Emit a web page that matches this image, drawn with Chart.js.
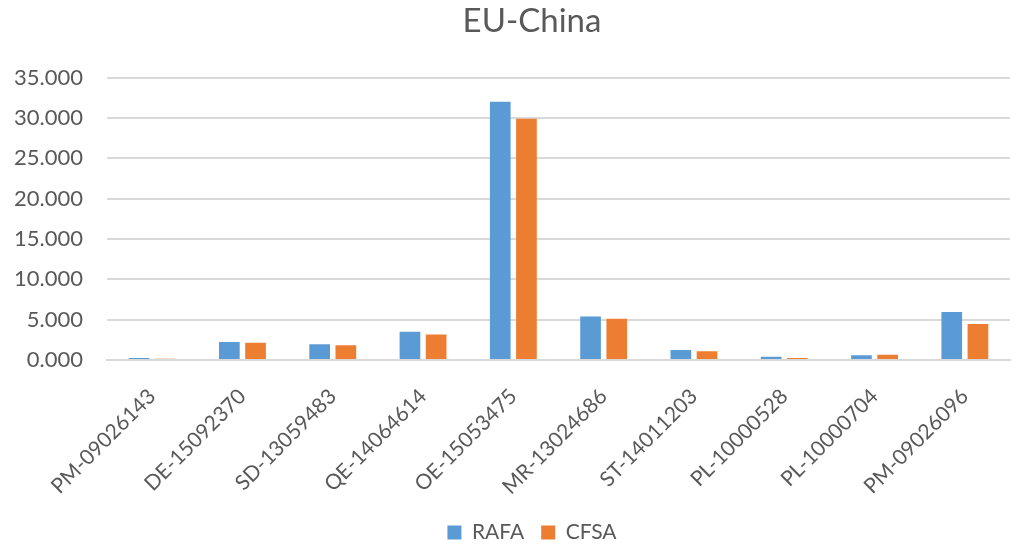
<!DOCTYPE html>
<html>
<head>
<meta charset="utf-8">
<script src="https://cdn.jsdelivr.net/npm/chart.js@4.4.1/dist/chart.umd.min.js"></script>
<style>
  html, body { margin: 0; padding: 0; background: #ffffff; }
  #wrap { width: 1030px; height: 545px; position: relative; }
</style>
</head>
<body>
<div id="wrap"><canvas id="chart" width="1030" height="545"></canvas></div>
<script>
// Sample identifiers along the category axis
const categories = [
  'PM-09026143', 'DE-15092370', 'SD-13059483', 'QE-14064614', 'OE-15053475',
  'MR-13024686', 'ST-14011203', 'PL-10000528', 'PL-10000704', 'PM-09026096'
];

// Measured values per laboratory
const rafaValues = [0.25, 2.24, 1.95, 3.49, 32.0, 5.39, 1.25, 0.41, 0.58, 5.94];
const cfsaValues = [0.15, 2.15, 1.83, 3.15, 29.9, 5.10, 1.08, 0.25, 0.66, 4.45];

// Value-axis ticks
const yTicks = [0, 5, 10, 15, 20, 25, 30, 35];

const textColor = '#595959';
const gridColor = '#D9D9D9';
const fontFamily = 'Lato, "Open Sans", "Liberation Sans", sans-serif';

// Centre the title and legend a little right of the canvas middle
const headerShift = {
  id: 'headerShift',
  afterLayout(chart) {
    const dx = 27;
    [chart.titleBlock, chart.legend].forEach((box) => {
      if (box) { box.left += dx; box.right += dx; }
    });
  }
};

new Chart(document.getElementById('chart'), {
  type: 'bar',
  data: {
    labels: categories,
    datasets: [
      { label: 'RAFA', data: rafaValues, backgroundColor: '#5B9BD5' },
      { label: 'CFSA', data: cfsaValues, backgroundColor: '#ED7D31' }
    ]
  },
  plugins: [headerShift],
  options: {
    responsive: false,
    animation: false,
    devicePixelRatio: 1,
    layout: { padding: { left: 0, right: 20, top: 0, bottom: -8 } },
    datasets: {
      bar: { categoryPercentage: 0.58, barPercentage: 0.79 }
    },
    plugins: {
      title: {
        display: true,
        text: 'EU-China',
        color: textColor,
        font: { family: fontFamily, size: 33, weight: 'normal', lineHeight: 1.2 },
        padding: { top: 2, bottom: 36 }
      },
      legend: {
        display: true,
        position: 'bottom',
        labels: {
          color: textColor,
          font: { family: fontFamily, size: 21, lineHeight: 1 },
          boxWidth: 14,
          boxHeight: 14,
          padding: 17
        }
      },
      tooltip: { enabled: false }
    },
    scales: {
      x: {
        afterFit: (scale) => { scale.height = 145; },
        grid: { display: false, drawTicks: false },
        border: { display: true, color: gridColor, width: 2 },
        ticks: {
          color: textColor,
          font: { family: fontFamily, size: 21 },
          minRotation: 45,
          maxRotation: 45,
          autoSkip: false,
          padding: 24
        }
      },
      y: {
        min: 0,
        max: 35,
        afterBuildTicks: (scale) => { scale.ticks = yTicks.map(v => ({ value: v })); },
        afterFit: (scale) => { scale.width = 107; },
        grid: { color: gridColor, lineWidth: 2, drawTicks: false },
        border: { display: false },
        ticks: {
          color: textColor,
          font: { family: fontFamily, size: 22 },
          padding: 24,
          callback: (v) => Number(v).toFixed(3)
        }
      }
    }
  }
});
</script>
</body>
</html>
